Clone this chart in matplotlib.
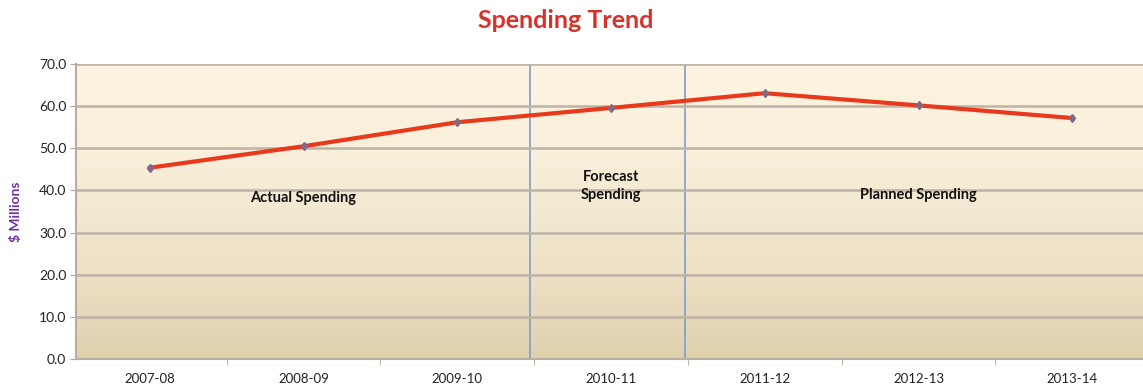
import matplotlib.pyplot as plt
import numpy as np

plt.rcParams['font.family'] = ['Lato', 'DejaVu Sans']

years = ['2007-08', '2008-09', '2009-10', '2010-11', '2011-12', '2012-13', '2013-14']
spending = [45.4, 50.5, 56.2, 59.6, 63.1, 60.2, 57.2]
phase_names = ['Actual Spending', 'Forecast\nSpending', 'Planned Spending']
phase_x = [1, 3, 5]
phase_y = [38.3, 41.0, 39.0]
dividers = [2.47, 3.48]

fig = plt.figure(figsize=(11.43, 3.91), dpi=100)
ax = fig.add_axes([0.0665, 0.082, 0.9335, 0.754])

x = np.arange(len(years))
ax.set_xlim(-0.48, 6.46)
ax.set_ylim(0, 70)

# soft beige gradient behind the plot, darkening mostly near the bottom
grad = (np.linspace(0, 1, 256) ** 1.8).reshape(-1, 1)
c_top = np.array([0.988, 0.953, 0.878])
c_bot = np.array([0.875, 0.815, 0.680])
img = c_top[None, None, :] * (1 - grad[:, :, None]) + c_bot[None, None, :] * grad[:, :, None]
ax.imshow(img, extent=[-0.48, 6.46, 0, 70], aspect='auto', zorder=0)

ax.set_yticks(np.arange(0, 71, 10))
ax.set_yticklabels(['%.1f' % v for v in np.arange(0, 71, 10)], fontsize=10, color='#222222')
ax.yaxis.grid(True, color='#bdb3a6', lw=1.8, zorder=1)
ax.set_axisbelow(False)

ax.set_xticks(x)
ax.set_xticklabels(years, fontsize=9.5, color='#222222')
ax.set_xticks(np.arange(0.5, 6.5, 1), minor=True)
ax.tick_params(axis='x', which='major', length=0, pad=10)
ax.tick_params(axis='x', which='minor', length=4, color='#b0a898')
ax.tick_params(axis='y', length=4, color='#b0a898', pad=3)

for s in ['top', 'right']:
    ax.spines[s].set_visible(False)
for s in ['left', 'bottom']:
    ax.spines[s].set_color('#b8ae9f')
    ax.spines[s].set_linewidth(1.5)

for d in dividers:
    ax.axvline(d, color='#7f9ccc', lw=1.2, zorder=2)

ax.plot(x, spending, color='#e8391d', lw=3, marker='d', markersize=4.5,
        markerfacecolor='#806a88', markeredgecolor='#806a88', zorder=3)

for name, px, py in zip(phase_names, phase_x, phase_y):
    ax.text(px, py, name, ha='center', va='center', fontsize=10.5, fontweight='bold',
            color='#111111', linespacing=1.4, zorder=4)

ax.set_ylabel('$ Millions', fontsize=10, fontweight='bold', color='#7030a0', labelpad=12)
fig.text(0.495, 0.948, 'Spending Trend', ha='center', va='center', fontsize=18,
         fontweight='bold', color='#d9302a')

fig.savefig('out.png', dpi=100)
